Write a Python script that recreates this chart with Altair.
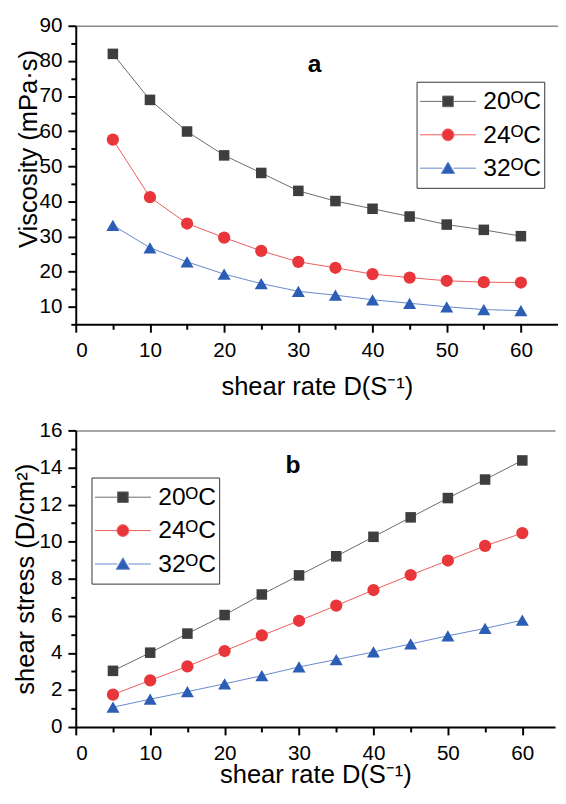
import altair as alt
import pandas as pd

# ---------------- data ----------------
shear_rate = [5, 10, 15, 20, 25, 30, 35, 40, 45, 50, 55, 60]
series_labels = ["20ᴼC", "24ᴼC", "32ᴼC"]

viscosity_20 = [82.0, 68.9, 59.9, 53.1, 48.1, 43.0, 40.1, 37.9, 35.7, 33.4, 31.9, 30.1]
viscosity_24 = [57.6, 41.2, 33.7, 29.7, 25.9, 22.8, 21.1, 19.3, 18.3, 17.4, 17.0, 16.9]
viscosity_32 = [33.2, 26.8, 22.8, 19.3, 16.6, 14.4, 13.3, 12.0, 11.0, 10.0, 9.2, 8.9]

stress_20 = [3.03, 4.01, 5.04, 6.04, 7.15, 8.18, 9.21, 10.26, 11.31, 12.35, 13.35, 14.38]
stress_24 = [1.75, 2.52, 3.27, 4.10, 4.94, 5.73, 6.55, 7.39, 8.20, 8.98, 9.77, 10.46]
stress_32 = [1.07, 1.50, 1.91, 2.33, 2.77, 3.24, 3.64, 4.05, 4.48, 4.92, 5.32, 5.76]

x_tick_values = [0, 5, 10, 15, 20, 25, 30, 35, 40, 45, 50, 55, 60]
visc_tick_values = [5, 10, 15, 20, 25, 30, 35, 40, 45, 50, 55, 60, 65, 70, 75, 80, 85, 90]
stress_tick_values = list(range(0, 17))

panel_letters = ["a", "b"]
panel_letter_anchor_a = [32.2, 79.0]   # (shear rate, viscosity) where "a" sits
panel_letter_anchor_b = [29.2, 14.1]   # (shear rate, stress) where "b" sits

# ---------------- styles ----------------
FONT = "Liberation Sans"
marker_colors = ["#3e3e3e", "#e8363b", "#2b5eb4"]
line_colors = ["#6a6a6a", "#f05a5a", "#6688cc"]
marker_shapes = ["square", "circle", "triangle-up"]
marker_sizes = [115, 155, 175]
legend_paths = [
    "M-1,0H-0.19M0.19,0H1M-0.19,-0.19H0.19V0.19H-0.19Z",
    "M-1,0H-0.21M0.21,0H1M-0.21,0A0.21,0.21 0 1,0 0.21,0A0.21,0.21 0 1,0 -0.21,0Z",
    "M-1,0H-0.2M0.2,0H1M0,-0.22L0.24,0.19H-0.24Z",
]
LEGEND_SIZE = 3249
LEGEND_CHANNELS = ("shape", "fill", "stroke")


def long_df(series_values):
    rows = []
    for name, vals in zip(series_labels, series_values):
        for r, v in zip(shear_rate, vals):
            rows.append({"rate": r, "value": v, "series": name})
    return pd.DataFrame(rows)


def panel(df, y_title, y_domain, y_values, y_major, x_max, width, height,
          legend_x, legend_y, letter, letter_anchor,
          y_title_pad, x_title_pad, y_title_y=None):
    x_scale = alt.Scale(domain=[0, x_max], nice=False, zero=False)
    y_scale = alt.Scale(domain=y_domain, nice=False, zero=False)
    x_axis = alt.Axis(
        orient="bottom",
        values=x_tick_values,
        labelExpr="datum.value % 10 === 0 ? datum.label : ''",
        labelOverlap=False,
        labelPadding=8,
        tickSize={"condition": {"test": "datum.value % 10 === 0", "value": 8}, "value": 5},
        title="shear rate D(S⁻¹)",
        titlePadding=x_title_pad,
        grid=False,
    )
    y_axis_kw = dict(
        values=y_values,
        labelExpr=f"datum.value % {y_major} === 0 ? datum.label : ''",
        labelOverlap=False,
        labelPadding=6,
        tickSize={"condition": {"test": f"datum.value % {y_major} === 0", "value": 8}, "value": 5},
        title=y_title,
        titlePadding=y_title_pad,
        grid=False,
    )
    if y_title_y is not None:
        y_axis_kw["titleY"] = y_title_y
    y_axis = alt.Axis(**y_axis_kw)

    base = alt.Chart(df)
    x = alt.X("rate:Q", scale=x_scale, axis=x_axis)
    y = alt.Y("value:Q", scale=y_scale, axis=y_axis)

    line_layers = []
    point_layers = []
    for name, lc, col, shp, sz in zip(series_labels, line_colors, marker_colors,
                                      marker_shapes, marker_sizes):
        sub = base.transform_filter(alt.datum.series == name)
        line_layers.append(sub.mark_line(strokeWidth=1, color=lc).encode(x=x, y=y))
        point_layers.append(
            sub.mark_point(shape=shp, filled=True, size=sz, color=col, opacity=1, strokeWidth=0)
            .encode(x=x, y=y)
        )

    legend = alt.Legend(
        title=None, orient="none", legendX=legend_x, legendY=legend_y,
        padding=3, strokeColor="#333333", fillColor="white",
        labelFont=FONT, labelFontSize=25, labelColor="black", labelOffset=7,
        labelLimit=300, clipHeight=34, rowPadding=0,
        symbolSize=LEGEND_SIZE, symbolStrokeWidth=1,
    )
    legend_layer = base.transform_filter("datum.value < -1000").mark_point(
        filled=True, opacity=1, size=LEGEND_SIZE, strokeWidth=1
    ).encode(
        x=x, y=y,
        shape=alt.Shape("series:N", scale=alt.Scale(domain=series_labels, range=legend_paths),
                        legend=legend),
        fill=alt.Fill("series:N", scale=alt.Scale(domain=series_labels, range=marker_colors),
                      legend=legend),
        stroke=alt.Stroke("series:N", scale=alt.Scale(domain=series_labels, range=line_colors),
                          legend=legend),
    )

    letter_layer = base.transform_filter(
        "datum.rate === 5 && datum.series === '20ᴼC'"
    ).transform_calculate(
        rate=str(letter_anchor[0]), value=str(letter_anchor[1])
    ).mark_text(
        text=letter, font=FONT, fontSize=25, fontWeight="bold", color="black",
        align="center", baseline="middle",
    ).encode(x=x, y=y)

    main = alt.layer(*line_layers, *point_layers, legend_layer, letter_layer)

    top_frame = base.mark_line(opacity=0).encode(
        x=alt.X("rate:Q", scale=x_scale,
                axis=alt.Axis(orient="top", labels=False, ticks=False, title=None,
                              domainColor="#8a8a8a", domainWidth=1.5, grid=False)),
        y=y,
    )

    return alt.layer(main, top_frame).resolve_axis(x="independent").properties(
        width=width, height=height,
    )


viscosity_df = long_df([viscosity_20, viscosity_24, viscosity_32])
stress_df = long_df([stress_20, stress_24, stress_32])

panel_a = panel(viscosity_df, "Viscosity (mPa·s)", [5, 90], visc_tick_values, 10,
                65, 491, 304, 347, 57, panel_letters[0], panel_letter_anchor_a,
                -2, 13, y_title_y=125)
panel_b = panel(stress_df, "shear stress (D/cm²)", [0, 16], stress_tick_values, 2,
                64.4, 488, 302, 16, 48, panel_letters[1], panel_letter_anchor_b,
                1, -1)

chart = alt.vconcat(panel_a, panel_b, spacing=21).resolve_scale(
    **{c: "independent" for c in LEGEND_CHANNELS}
).resolve_legend(
    **{c: "independent" for c in LEGEND_CHANNELS}
).properties(
    padding={"left": 4, "top": 0, "right": 0, "bottom": -7}
).configure_view(stroke=None).configure_axis(
    labelFont=FONT, labelFontSize=21, labelColor="black",
    titleFont=FONT, titleFontSize=26, titleFontWeight="normal", titleColor="black",
    domainColor="black", domainWidth=2, tickColor="black", tickWidth=2,
)

chart.save("out.html", embed_options={"renderer": "svg", "actions": False})
